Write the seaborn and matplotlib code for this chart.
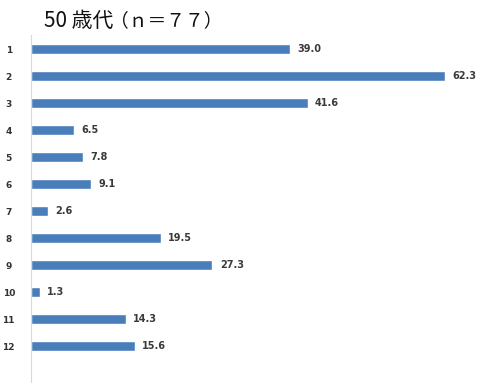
import matplotlib
matplotlib.use("Agg")
import matplotlib.pyplot as plt
import seaborn as sns
import pandas as pd

categories = ["1", "2", "3", "4", "5", "6", "7", "8", "9", "10", "11", "12"]
values = [39.0, 62.3, 41.6, 6.5, 7.8, 9.1, 2.6, 19.5, 27.3, 1.3, 14.3, 15.6]

df = pd.DataFrame({"item": categories, "pct": values})

sns.set_theme(style="white")
plt.rcParams["font.family"] = ["Noto Sans CJK JP", "DejaVu Sans"]

fig = plt.figure(figsize=(4.85, 3.83), dpi=100)
ax = fig.add_axes([31 / 485, 0, 454 / 485, 348 / 383])

sns.barplot(data=df, x="pct", y="item", orient="h", color="#4a7ebb",
            saturation=1, width=0.35, ax=ax)

ax.set_xlim(0, 68.3)
ax.set_ylim(12.37, -0.52)
for i, v in enumerate(values):
    ax.text(v + 1.1, i, f"{v:.1f}", va="center", ha="left", fontsize=7,
            color="#3a3a3a", fontweight="bold", family="DejaVu Sans")

ax.set_xlabel("")
ax.set_ylabel("")
ax.set_xticks([])
ax.tick_params(axis="y", length=0, pad=16, labelsize=6.5, labelcolor="#333333")
for lbl in ax.get_yticklabels():
    lbl.set_fontweight("bold")
    lbl.set_family("DejaVu Sans")
    lbl.set_horizontalalignment("center")
for side in ["top", "right", "bottom"]:
    ax.spines[side].set_visible(False)
ax.spines["left"].set_color("#d9d9d9")
ax.spines["left"].set_linewidth(0.8)

title = fig.text(44 / 485, 1 - 21 / 383, "50 歳代", fontsize=15, va="center",
                 ha="left", color="#111111")
ax.annotate("（ｎ＝７７）", xy=(1, 0.5), xycoords=title, xytext=(-3, 0),
            textcoords="offset pixels", fontsize=13.5, va="center", ha="left",
            color="#111111", annotation_clip=False)

fig.savefig("out.png", dpi=100)
